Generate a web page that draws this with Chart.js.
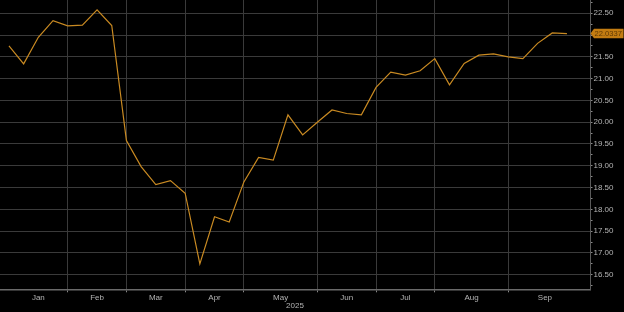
<!DOCTYPE html>
<html>
<head>
<meta charset="utf-8">
<script src="https://cdn.jsdelivr.net/npm/chart.js@4"></script>
<style>
html,body{margin:0;padding:0;background:#000;}
#wrap{width:624px;height:312px;position:relative;}
</style>
</head>
<body>
<div id="wrap"><canvas id="c" width="624" height="312"></canvas></div>
<script>
// Weekly closes, 2025 (index = week number)
const values = [21.75,21.34,21.95,22.33,22.21,22.23,22.58,22.22,
  19.58,18.98,18.57,18.66,18.37,16.75,17.83,17.71,18.63,19.19,19.13,20.17,
  19.71,20.00,20.28,20.20,20.17,20.80,21.15,21.08,21.18,21.46,20.86,21.35,
  21.54,21.57,21.50,21.46,21.81,22.05,22.0337];
const monthLabels = ['Jan','Feb','Mar','Apr','May','Jun','Jul','Aug','Sep'];
const monthStart = [0,4,8,12,16,21,25,29,34];
const seriesEnd = 39;
const yearLabel = '2025';
const lastLabel = '22.0337';

const points = values.map((v,i)=>({x:i,y:v}));
const gridIdx = monthStart.slice(1);
const centers = monthStart.map((s,k)=> (s + (k+1<monthStart.length?monthStart[k+1]:seriesEnd))/2);

const GRID = '#3a3a3a';
const TXT = '#b4b4b4';
const LINE = '#c98a22';
const FONT = '"Liberation Sans", Arial, sans-serif';

const pricePlugin = {
  id:'priceTag',
  afterDraw(chart){
    const ctx = chart.ctx;
    const ys = chart.scales.y;
    const last = values[values.length-1];
    const py = ys.getPixelForValue(last);
    const x0 = chart.chartArea.right + 0.5;
    const h = 9.5, w = 33;
    ctx.save();
    ctx.fillStyle = '#c27c12';
    ctx.beginPath();
    ctx.moveTo(x0, py);
    ctx.lineTo(x0+3.5, py-h/2);
    ctx.lineTo(x0+w, py-h/2);
    ctx.lineTo(x0+w, py+h/2);
    ctx.lineTo(x0+3.5, py+h/2);
    ctx.closePath();
    ctx.fill();
    ctx.fillStyle = '#603a04';
    ctx.font = '7.6px ' + FONT;
    ctx.textBaseline = 'middle';
    ctx.textAlign = 'left';
    ctx.fillText(lastLabel, x0+4, py+0.5);
    ctx.restore();
  }
};

new Chart(document.getElementById('c'), {
  type:'line',
  data:{datasets:[{data:points,borderColor:LINE,borderWidth:1.2,pointRadius:0,tension:0,fill:false}]},
  plugins:[pricePlugin],
  options:{
    responsive:false,animation:false,
    layout:{padding:0},
    plugins:{legend:{display:false},tooltip:{enabled:false}},
    scales:{
      x:{
        type:'linear',min:-0.61,max:39.57,
        afterBuildTicks(s){
          const t=[];
          gridIdx.forEach(v=>t.push({value:v}));
          centers.forEach(v=>t.push({value:v}));
          t.sort((a,b)=>a.value-b.value);
          s.ticks=t;
        },
        afterFit(s){s.height=22.7;s.paddingLeft=0;s.paddingRight=0;},
        grid:{
          color:(c)=> (c.tick && gridIdx.includes(c.tick.value)) ? GRID : 'rgba(0,0,0,0)',
          tickColor:(c)=> (c.tick && gridIdx.includes(c.tick.value)) ? '#8a8a8a' : 'rgba(0,0,0,0)',
          tickLength:3,lineWidth:1,drawOnChartArea:true
        },
        border:{display:true,color:'#6a6a6a',width:1.5},
        ticks:{
          autoSkip:false,maxRotation:0,padding:1,color:TXT,
          font:{family:FONT,size:8},
          callback:(v)=>{const k=centers.indexOf(v);return k>=0?monthLabels[k]:'';}
        },
        title:{display:true,text:yearLabel,color:TXT,padding:{top:0,bottom:1},
          font:{family:FONT,size:8}}
      },
      y:{
        position:'right',min:16.165,max:22.805,
        afterBuildTicks(s){
          const t=[];
          for(let v=16.25; v<=22.76; v+=0.25) t.push({value:Math.round(v*100)/100});
          s.ticks=t;
        },
        afterFit(s){s.width=34;s.paddingTop=0;s.paddingBottom=0;},
        grid:{
          color:(c)=> (c.tick && Math.abs(c.tick.value*2-Math.round(c.tick.value*2))<1e-6) ? GRID : 'rgba(0,0,0,0)',
          tickColor:'#8a8a8a',tickLength:2.5,lineWidth:1
        },
        border:{display:true,color:'#5a5a5a',width:1},
        ticks:{
          autoSkip:false,padding:1,color:TXT,
          font:{family:FONT,size:8},
          callback:(v)=> (Math.abs(v*2-Math.round(v*2))<1e-6) ? v.toFixed(2) : ''
        }
      }
    }
  }
});
</script>
</body>
</html>
